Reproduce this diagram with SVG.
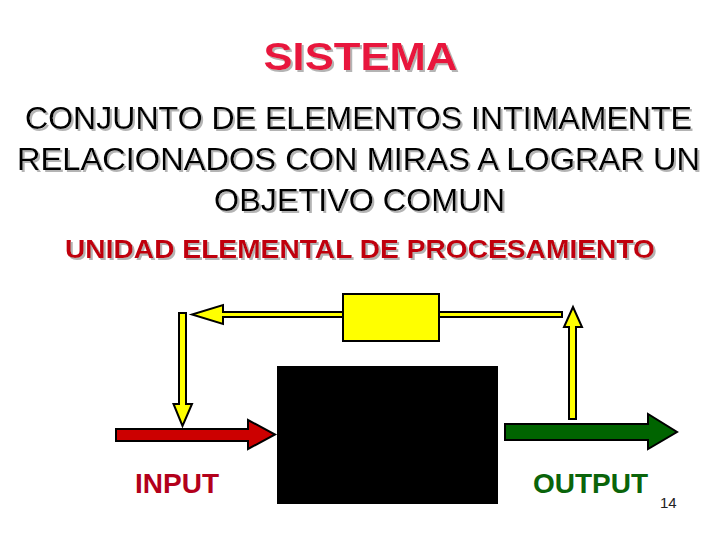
<svg xmlns="http://www.w3.org/2000/svg" width="720" height="540" viewBox="0 0 720 540">
  <defs>
    <filter id="shadow" x="-5%" y="-20%" width="110%" height="150%">
      <feDropShadow dx="2" dy="2" stdDeviation="0.7" flood-color="#b4b4b4" flood-opacity="1"/>
    </filter>
  </defs>
  <style>
    text { font-family: "Liberation Sans", Arial, sans-serif; }
    .title { font-size: 39px; font-weight: bold; fill: #E8173C; text-anchor: middle; }
    .body { font-size: 31.5px; fill: #000000; text-anchor: middle; }
    .sub { font-size: 25px; font-weight: bold; fill: #C00010; text-anchor: middle; }
    .lbl { font-size: 28px; font-weight: bold; }
    .arrow { stroke: #000000; stroke-width: 2; stroke-linejoin: miter; }
    .yel { fill: #FFFF00; }
    .red { fill: #CC0000; }
    .grn { fill: #006400; }
  </style>
  <rect x="0" y="0" width="720" height="540" fill="#FFFFFF"/>

  <g id="heading" filter="url(#shadow)">
    <text class="title" x="360.5" y="69.5" textLength="194" lengthAdjust="spacingAndGlyphs">SISTEMA</text>
    <text class="body" x="358.5" y="128.5" textLength="667" lengthAdjust="spacingAndGlyphs">CONJUNTO DE ELEMENTOS INTIMAMENTE</text>
    <text class="body" x="358.5" y="169.5" textLength="683" lengthAdjust="spacingAndGlyphs">RELACIONADOS CON MIRAS A LOGRAR UN</text>
    <text class="body" x="359.5" y="210.5" textLength="291" lengthAdjust="spacingAndGlyphs">OBJETIVO COMUN</text>
    <text class="sub" x="360" y="258" textLength="590" lengthAdjust="spacingAndGlyphs">UNIDAD ELEMENTAL DE PROCESAMIENTO</text>
  </g>

  <g id="connectors">
    <polygon class="arrow yel" points="343,312 223,312 223,305 192,314.5 223,324 223,317 343,317"/>
    <polygon class="arrow yel" points="179,313 186,313 186,404 192,404 182.5,426 173.5,404 179,404"/>
    <polygon class="arrow red" points="116,429 248,429 248,420 275,434.5 248,449 248,441 116,441"/>
    <polygon class="arrow grn" points="505,424 648,424 648,414 677,432 648,449 648,440 505,440"/>
    <polygon class="arrow yel" points="439,312 562,312 562,317 439,317"/>
    <polygon class="arrow yel" points="569,419 569,327 564,327 573,307 582,327 576,327 576,419"/>
  </g>

  <g id="feedback-box">
    <rect x="343" y="294" width="96" height="47" fill="#FFFF00" stroke="#000000" stroke-width="2"/>
  </g>

  <g id="process-box">
    <rect x="277" y="366" width="221" height="138" fill="#000000"/>
  </g>

  <g id="input-label">
    <text class="lbl" x="135" y="493" fill="#B3001B">INPUT</text>
  </g>

  <g id="output-label">
    <text class="lbl" x="533" y="493" fill="#0A640A">OUTPUT</text>
  </g>

  <g id="page-number">
    <text x="660" y="508" font-size="15" fill="#222222">14</text>
  </g>
</svg>
